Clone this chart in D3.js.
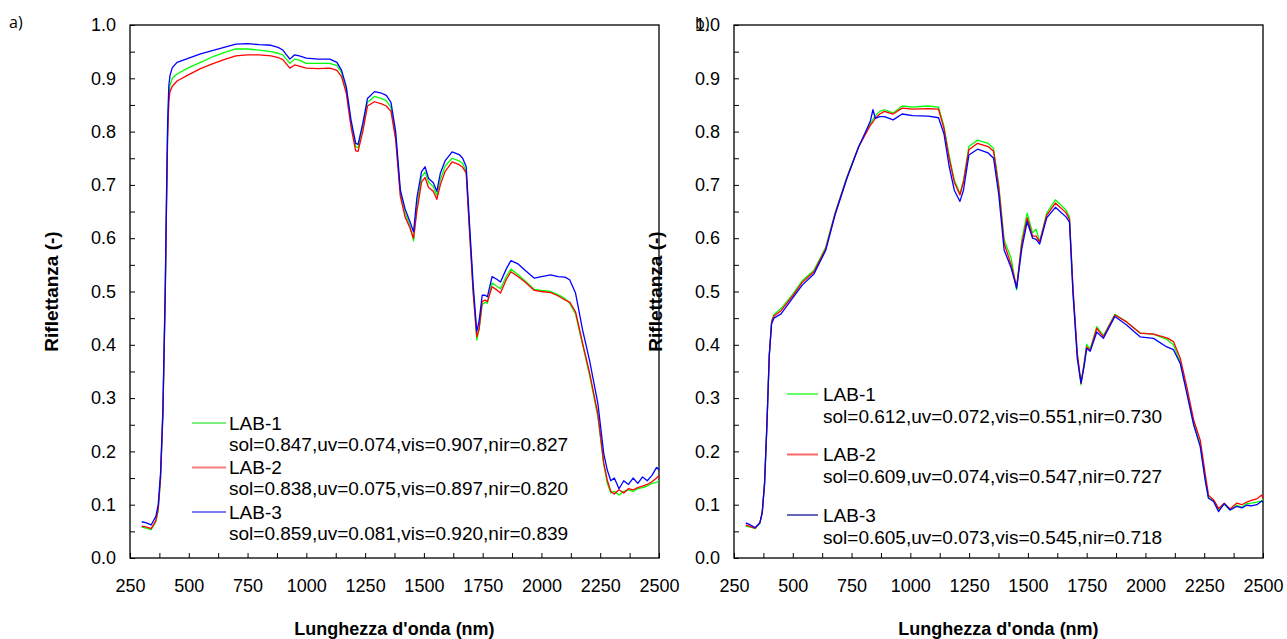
<!DOCTYPE html>
<html>
<head>
<meta charset="utf-8">
<title>Riflettanza LAB</title>
<script src="https://cdn.jsdelivr.net/npm/d3@7"></script>
<style>
  body { margin: 0; background: #fff; }
  svg text { font-family: 'Liberation Sans', Arial, sans-serif; }
</style>
</head>
<body>
<svg id="chart" width="1287" height="639"></svg>
<script>
// --- data ---
var seriesNames = ["LAB-1", "LAB-2", "LAB-3"];
var legendA = ["sol=0.847,uv=0.074,vis=0.907,nir=0.827",
               "sol=0.838,uv=0.075,vis=0.897,nir=0.820",
               "sol=0.859,uv=0.081,vis=0.920,nir=0.839"];
var legendB = ["sol=0.612,uv=0.072,vis=0.551,nir=0.730",
               "sol=0.609,uv=0.074,vis=0.547,nir=0.727",
               "sol=0.605,uv=0.073,vis=0.545,nir=0.718"];
var xTicks = [250, 500, 750, 1000, 1250, 1500, 1750, 2000, 2250, 2500];
var yTicks = [0, 0.1, 0.2, 0.3, 0.4, 0.5, 0.6, 0.7, 0.8, 0.9, 1.0];

// panel a
var waveA = [300,320,340,360,370,380,390,400,405,410,415,420,430,450,500,550,600,650,700,750,800,850,880,900,930,950,970,1000,1050,1100,1130,1150,1170,1190,1210,1220,1240,1260,1290,1320,1340,1360,1380,1400,1420,1440,1456,1470,1490,1505,1520,1540,1555,1570,1590,1620,1650,1665,1680,1695,1710,1725,1735,1748,1760,1770,1790,1810,1826,1850,1870,1900,1930,1970,2000,2040,2070,2100,2120,2145,2175,2205,2240,2265,2280,2295,2310,2330,2350,2370,2390,2410,2430,2450,2470,2490,2500];
var lab1A = [0.058,0.056,0.053,0.068,0.090,0.150,0.270,0.500,0.660,0.800,0.865,0.887,0.900,0.908,0.920,0.930,0.940,0.948,0.955,0.955,0.953,0.950,0.947,0.944,0.928,0.936,0.934,0.928,0.928,0.928,0.924,0.910,0.880,0.815,0.772,0.770,0.810,0.855,0.866,0.862,0.858,0.845,0.790,0.684,0.648,0.625,0.595,0.660,0.715,0.724,0.705,0.697,0.680,0.710,0.735,0.750,0.745,0.740,0.725,0.610,0.500,0.409,0.430,0.475,0.480,0.478,0.516,0.510,0.505,0.528,0.542,0.532,0.520,0.504,0.502,0.500,0.494,0.487,0.478,0.458,0.400,0.342,0.265,0.175,0.140,0.122,0.125,0.118,0.125,0.128,0.125,0.130,0.132,0.135,0.140,0.142,0.145];
var lab2A = [0.060,0.058,0.055,0.070,0.092,0.150,0.270,0.490,0.650,0.790,0.855,0.875,0.885,0.895,0.907,0.918,0.927,0.935,0.942,0.944,0.944,0.942,0.939,0.935,0.919,0.925,0.923,0.919,0.918,0.919,0.915,0.903,0.872,0.809,0.764,0.763,0.800,0.848,0.856,0.852,0.848,0.838,0.785,0.678,0.640,0.620,0.600,0.650,0.705,0.714,0.695,0.688,0.673,0.700,0.725,0.743,0.738,0.733,0.722,0.605,0.495,0.415,0.430,0.481,0.484,0.481,0.509,0.503,0.497,0.522,0.537,0.528,0.518,0.502,0.500,0.498,0.492,0.484,0.480,0.462,0.403,0.347,0.270,0.178,0.146,0.125,0.120,0.128,0.122,0.130,0.128,0.132,0.135,0.138,0.143,0.150,0.155];
var lab3A = [0.068,0.066,0.062,0.078,0.100,0.160,0.280,0.510,0.670,0.815,0.885,0.905,0.920,0.930,0.938,0.946,0.952,0.958,0.964,0.965,0.963,0.962,0.958,0.953,0.936,0.944,0.942,0.938,0.936,0.936,0.930,0.915,0.884,0.822,0.778,0.776,0.815,0.862,0.875,0.872,0.868,0.855,0.800,0.690,0.655,0.632,0.612,0.675,0.725,0.734,0.712,0.704,0.688,0.722,0.745,0.762,0.757,0.750,0.734,0.620,0.510,0.425,0.445,0.493,0.493,0.490,0.528,0.523,0.518,0.542,0.558,0.552,0.540,0.525,0.528,0.531,0.528,0.527,0.522,0.497,0.428,0.370,0.290,0.196,0.165,0.145,0.150,0.130,0.145,0.138,0.150,0.140,0.152,0.145,0.155,0.170,0.165];

// panel b
var waveB = [300,320,340,360,370,380,390,400,410,420,450,500,540,590,640,680,730,780,815,830,841,851,870,890,927,965,1010,1076,1120,1143,1165,1187,1211,1226,1249,1286,1331,1354,1376,1399,1429,1452,1474,1497,1520,1535,1550,1580,1617,1662,1677,1692,1710,1726,1740,1750,1765,1793,1821,1870,1920,1977,2034,2091,2119,2148,2176,2205,2233,2254,2268,2290,2311,2335,2360,2389,2410,2431,2450,2474,2495,2500];
var lab1B = [0.060,0.058,0.055,0.065,0.085,0.140,0.250,0.380,0.445,0.457,0.468,0.495,0.520,0.540,0.583,0.648,0.715,0.772,0.802,0.815,0.823,0.830,0.838,0.841,0.835,0.848,0.846,0.848,0.846,0.810,0.755,0.709,0.684,0.709,0.772,0.784,0.778,0.768,0.700,0.597,0.562,0.503,0.597,0.647,0.610,0.617,0.593,0.647,0.672,0.653,0.640,0.500,0.380,0.325,0.370,0.401,0.392,0.434,0.417,0.457,0.443,0.422,0.420,0.410,0.400,0.368,0.312,0.252,0.213,0.150,0.114,0.107,0.090,0.101,0.090,0.099,0.095,0.102,0.103,0.105,0.107,0.110];
var lab2B = [0.062,0.059,0.056,0.066,0.085,0.140,0.250,0.380,0.443,0.454,0.464,0.492,0.517,0.537,0.580,0.646,0.713,0.771,0.800,0.812,0.818,0.825,0.833,0.838,0.833,0.844,0.842,0.843,0.842,0.806,0.750,0.705,0.681,0.705,0.766,0.778,0.772,0.763,0.695,0.590,0.550,0.509,0.590,0.638,0.604,0.604,0.593,0.643,0.666,0.648,0.635,0.505,0.385,0.328,0.365,0.396,0.390,0.431,0.415,0.456,0.443,0.422,0.420,0.413,0.406,0.375,0.321,0.259,0.221,0.159,0.118,0.109,0.093,0.103,0.092,0.103,0.100,0.105,0.108,0.111,0.118,0.112];
var lab3B = [0.066,0.062,0.057,0.066,0.085,0.140,0.250,0.380,0.440,0.450,0.458,0.488,0.512,0.533,0.577,0.644,0.712,0.771,0.805,0.820,0.841,0.825,0.828,0.828,0.822,0.833,0.830,0.829,0.826,0.796,0.735,0.690,0.669,0.690,0.756,0.767,0.760,0.750,0.682,0.578,0.544,0.506,0.580,0.631,0.600,0.598,0.589,0.638,0.658,0.640,0.630,0.495,0.375,0.328,0.362,0.393,0.388,0.424,0.412,0.453,0.437,0.415,0.412,0.396,0.391,0.365,0.309,0.250,0.209,0.146,0.112,0.106,0.087,0.102,0.090,0.097,0.094,0.099,0.098,0.100,0.107,0.105];

var colors = ["#00ff00", "#ff0000", "#0000ff"];

var svg = d3.select("#chart");
var plotTop = 25, plotBottom = 558;

function drawPanel(left, right, wave, series, legendTexts, legendCfg) {
  var x = d3.scaleLinear().domain([250, 2500]).range([left, right]);
  var y = d3.scaleLinear().domain([0, 1]).range([plotBottom, plotTop]);
  var g = svg.append("g");

  // minor ticks
  g.append("g").attr("transform", "translate(0," + plotBottom + ")")
    .call(d3.axisBottom(x).tickValues(d3.range(375, 2500, 250)).tickSize(-5).tickSizeOuter(0).tickFormat(""))
    .call(s => s.select(".domain").remove());
  g.append("g").attr("transform", "translate(" + left + ",0)")
    .call(d3.axisLeft(y).tickValues(d3.range(0.05, 1, 0.1)).tickSize(-5).tickSizeOuter(0).tickFormat(""))
    .call(s => s.select(".domain").remove());

  var xa = g.append("g").attr("transform", "translate(0," + plotBottom + ")")
    .call(d3.axisBottom(x).tickValues(xTicks).tickSize(-5).tickSizeOuter(0).tickPadding(21).tickFormat(d3.format("d")));
  var ya = g.append("g").attr("transform", "translate(" + left + ",0)")
    .call(d3.axisLeft(y).tickValues(yTicks).tickSize(-5).tickSizeOuter(0).tickPadding(14).tickFormat(d3.format(".1f")));
  [xa, ya].forEach(function(a) {
    a.selectAll("text").attr("font-size", 18).attr("fill", "#000")
      .attr("font-family", "'Liberation Sans', Arial, sans-serif");
    a.selectAll("line").attr("stroke", "#000");
    a.select(".domain").remove();
  });

  // frame
  g.append("rect").attr("x", left).attr("y", plotTop)
    .attr("width", right - left).attr("height", plotBottom - plotTop)
    .attr("fill", "none").attr("stroke", "#000").attr("stroke-width", 1.3);

  var line = d3.line().x(function(d) { return x(d[0]); }).y(function(d) { return y(d[1]); });
  series.forEach(function(vals, i) {
    g.append("path")
      .datum(wave.map(function(w, k) { return [w, vals[k]]; }))
      .attr("d", line).attr("fill", "none")
      .attr("stroke", colors[i]).attr("stroke-width", 1.3)
      .attr("stroke-linejoin", "round");
  });

  // legend
  seriesNames.forEach(function(name, i) {
    var ly = legendCfg.y0 + i * legendCfg.dy;
    g.append("line").attr("x1", legendCfg.x1).attr("x2", legendCfg.x2)
      .attr("y1", ly).attr("y2", ly)
      .attr("stroke", legendCfg.colors[i]).attr("stroke-width", legendCfg.widths[i]);
    g.append("text").attr("x", legendCfg.tx).attr("y", ly + 6.5)
      .attr("font-size", 19).text(name);
    g.append("text").attr("x", legendCfg.tx).attr("y", ly + 6.5 + legendCfg.gap)
      .attr("font-size", 19).text(legendTexts[i]);
  });

  // axis titles
  g.append("text").attr("x", (left + right) / 2).attr("y", 635)
    .attr("text-anchor", "middle").attr("font-size", 18).attr("font-weight", "bold")
    .text("Lunghezza d'onda (nm)");
  g.append("text")
    .attr("transform", "translate(" + (left - 72) + "," + ((plotTop + plotBottom) / 2) + ") rotate(-90)")
    .attr("text-anchor", "middle").attr("font-size", 19).attr("font-weight", "bold")
    .text("Riflettanza (-)");
}

drawPanel(130, 659, waveA, [lab1A, lab2A, lab3A], legendA,
  { x1: 192, x2: 226, tx: 229, y0: 423, dy: 44.5, gap: 21,
    colors: ["#7cf07c", "#f47c7c", "#7c7cf4"], widths: [2, 2, 2] });
drawPanel(734, 1263, waveB, [lab1B, lab2B, lab3B], legendB,
  { x1: 787, x2: 818, tx: 823, y0: 394, dy: 60.5, gap: 22,
    colors: ["#00ff00", "#f86a6a", "#00008b"], widths: [1.2, 2, 1.2] });

svg.append("text").attr("x", 9).attr("y", 28).attr("font-size", 16)
  .style("font-family", "'Open Sans', sans-serif").text("a)");
svg.append("text").attr("x", 695).attr("y", 29).attr("font-size", 16)
  .style("font-family", "'Open Sans', sans-serif").text("b)");
</script>
</body>
</html>
